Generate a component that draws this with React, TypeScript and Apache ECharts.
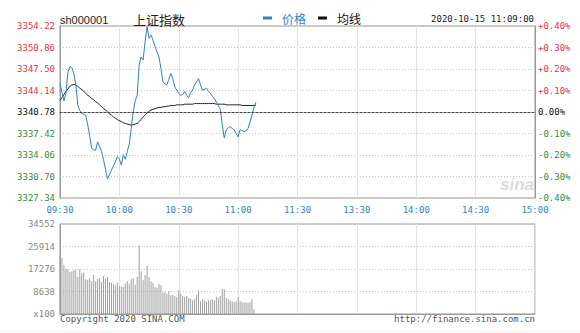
import React, { useEffect, useRef } from 'react';
import * as echarts from 'echarts';

const BASE = 3340.78;
const STEP = 3.36;

const price = [
  3345.3, 3343.8, 3342.5, 3343.7, 3347.0, 3347.9, 3347.7, 3346.8, 3345.0, 3341.9,
  3341.0, 3340.6, 3340.4, 3340.3, 3338.8, 3337.0, 3335.1, 3334.9, 3334.8, 3336.1,
  3335.4, 3334.6, 3333.3, 3331.8, 3330.3, 3331.0, 3331.7, 3332.4, 3333.0, 3333.8,
  3333.4, 3332.5, 3334.1, 3333.4, 3334.6, 3335.8, 3338.2, 3340.8, 3342.5, 3343.4,
  3348.1, 3349.4, 3348.9, 3351.8, 3354.1, 3352.3, 3352.8, 3352.0, 3351.0, 3350.2,
  3349.4, 3347.6, 3345.5, 3345.2, 3345.0, 3345.9, 3346.8, 3346.0, 3344.7, 3344.2,
  3343.7, 3343.4, 3343.5, 3344.0, 3343.4, 3343.0, 3343.8, 3344.2, 3345.0, 3345.5,
  3346.0, 3345.0, 3344.2, 3344.3, 3344.5, 3344.0, 3343.7, 3343.2, 3342.9, 3342.3,
  3341.8, 3341.2, 3338.8, 3336.7, 3338.0, 3338.3, 3338.5, 3338.2, 3338.0, 3337.4,
  3336.9, 3338.0, 3337.9, 3337.7, 3337.9, 3338.2, 3339.2, 3340.3, 3341.5, 3342.3,
];

const avgLine = [
  3342.6, 3343.0, 3343.5, 3344.0, 3344.4, 3344.8, 3345.0, 3345.1, 3345.0, 3344.8,
  3344.5, 3344.3, 3344.0, 3343.7, 3343.4, 3343.2, 3342.9, 3342.7, 3342.4, 3342.2,
  3341.9, 3341.6, 3341.3, 3341.1, 3340.8, 3340.5, 3340.3, 3340.0, 3339.8, 3339.6,
  3339.4, 3339.3, 3339.1, 3339.0, 3338.9, 3338.8, 3338.75, 3338.8, 3338.9, 3339.0,
  3339.3, 3339.6, 3340.0, 3340.3, 3340.6, 3340.9, 3341.1, 3341.2, 3341.3, 3341.4,
  3341.5, 3341.5, 3341.6, 3341.6, 3341.7, 3341.7, 3341.8, 3341.8, 3341.8, 3341.9,
  3341.9, 3341.9, 3341.9, 3342.0, 3342.0, 3342.0, 3342.0, 3342.0, 3342.1, 3342.1,
  3342.1, 3342.1, 3342.1, 3342.1, 3342.1, 3342.1, 3342.1, 3342.1, 3342.1, 3342.0,
  3342.0, 3342.0, 3342.0, 3342.0, 3341.9, 3341.9, 3341.9, 3341.9, 3341.9, 3341.9,
  3341.9, 3341.9, 3341.8, 3341.8, 3341.8, 3341.8, 3341.8, 3341.8, 3341.8, 3341.8,
];

const volume = [
  22500, 21500, 18940, 17150, 17150, 16130, 16380, 16770, 17150, 14210,
  17150, 15490, 15870, 13310, 12930, 13820, 12540, 15100, 12540, 13310,
  13820, 12290, 14590, 13570, 14210, 12290, 12030, 11520, 11010, 12030,
  10750, 10370, 10370, 11650, 12540, 11650, 13310, 13820, 11260, 14210,
  26110, 16380, 12930, 14850, 18690, 14210, 12540, 12030, 10370, 9980,
  11650, 11010, 8190, 8450, 7810, 8700, 7170, 7420, 6910, 6530,
  9090, 7810, 6910, 6530, 6910, 6140, 5890, 5250, 5630, 7420,
  9090, 4860, 5630, 5250, 4610, 5250, 5250, 5630, 5250, 6530,
  6140, 6910, 9730, 9470, 6140, 5630, 5250, 4860, 4610, 4860,
  6530, 4860, 4610, 4350, 4610, 4350, 4610, 5630, 1790,
];

const tickLabels = ['09:30', '10:00', '10:30', '11:00', '11:30', '13:30', '14:00', '14:30', '15:00'];
const volMax = 34552;
const volStep = 8638;

const pad = (n: number) => (n < 10 ? '0' + n : '' + n);
const minutes: string[] = [];
for (let i = 0; i <= 120; i++) {
  const t = 9 * 60 + 30 + i;
  minutes.push(pad(Math.floor(t / 60)) + ':' + pad(t % 60));
}
for (let i = 1; i <= 120; i++) {
  const t = 13 * 60 + i;
  minutes.push(pad(Math.floor(t / 60)) + ':' + pad(t % 60));
}

const toStep = (p: number) => +((p - BASE) / STEP).toFixed(4);
const MONO = '"DejaVu Sans Mono", monospace';
const RED = '#e8323c';
const GREEN = '#3a8a3a';
const BLUE = '#2e82c6';
const every30 = (i: number) => i % 30 === 0;

export default function App() {
  const ref = useRef<HTMLDivElement>(null);
  useEffect(() => {
    if (!ref.current) return;
    const chart = echarts.init(ref.current, undefined, { renderer: 'svg' });
    chart.setOption({
      animation: false,
      backgroundColor: '#fff',
      grid: [
        { left: 60, top: 26, width: 475, height: 172, show: true, borderColor: '#999', borderWidth: 1 },
        { left: 60, top: 224, width: 475, height: 90, show: true, borderColor: '#999', borderWidth: 1 },
      ],
      legend: {
        left: 263,
        top: 12,
        padding: 0,
        icon: 'rect',
        itemWidth: 9,
        itemHeight: 3,
        itemGap: 12,
        selectedMode: false,
        textStyle: { fontSize: 12, fontFamily: '"Noto Sans CJK SC"', padding: [0, 0, 0, 5] },
        data: [
          { name: '价格', textStyle: { color: BLUE } },
          { name: '均线', textStyle: { color: '#111' } },
        ],
      },
      xAxis: [
        {
          type: 'category',
          gridIndex: 0,
          data: minutes,
          boundaryGap: false,
          axisLine: { lineStyle: { color: '#999' } },
          axisTick: { show: false },
          axisLabel: {
            interval: every30,
            formatter: (_v: string, i: number) => tickLabels[i / 30] ?? '',
            color: BLUE,
            fontFamily: MONO,
            fontSize: 9,
            margin: 7,
            showMinLabel: true,
            showMaxLabel: true,
          },
          splitLine: { show: true, interval: every30, lineStyle: { color: '#e2e2e2', width: 1 } },
        },
        {
          type: 'category',
          gridIndex: 1,
          data: minutes,
          boundaryGap: false,
          axisLine: { lineStyle: { color: '#999' } },
          axisTick: { show: false },
          axisLabel: { show: false },
          splitLine: { show: true, interval: every30, lineStyle: { color: '#e2e2e2', width: 1 } },
        },
      ],
      yAxis: [
        {
          type: 'value',
          gridIndex: 0,
          min: -4,
          max: 4,
          interval: 1,
          position: 'left',
          axisLine: { show: true, lineStyle: { color: '#999' } },
          axisTick: { show: false },
          axisLabel: {
            formatter: (v: number) => (BASE + v * STEP).toFixed(2),
            color: (v: any) => (+v > 0 ? RED : +v < 0 ? GREEN : '#111'),
            fontFamily: MONO,
            fontSize: 9,
            margin: 5,
          },
          splitLine: { show: true, lineStyle: { color: '#c4c4c4', type: [1, 2] } },
        },
        {
          type: 'value',
          gridIndex: 0,
          min: -4,
          max: 4,
          interval: 1,
          position: 'right',
          axisLine: { show: true, lineStyle: { color: '#999' } },
          axisTick: { show: false },
          axisLabel: {
            formatter: (v: number) =>
              v === 0 ? '0.00%' : (v > 0 ? '+' : '-') + (Math.abs(v) / 10).toFixed(2) + '%',
            color: (v: any) => (+v > 0 ? RED : +v < 0 ? GREEN : '#111'),
            fontFamily: MONO,
            fontSize: 9,
            margin: 3,
          },
          splitLine: { show: false },
        },
        {
          type: 'value',
          gridIndex: 1,
          min: 0,
          max: volMax,
          interval: volStep,
          axisLine: { show: true, lineStyle: { color: '#999' } },
          axisTick: { show: false },
          axisLabel: {
            formatter: (v: number) => (v === 0 ? 'x100' : String(v)),
            color: '#888',
            fontFamily: MONO,
            fontSize: 9,
            margin: 5,
          },
          splitLine: { show: true, lineStyle: { color: '#c4c4c4', type: [1, 2] } },
        },
      ],
      series: [
        {
          name: '价格',
          type: 'line',
          xAxisIndex: 0,
          yAxisIndex: 0,
          data: price.map(toStep),
          symbol: 'none',
          itemStyle: { color: BLUE },
          lineStyle: { color: BLUE, width: 1 },
          markLine: {
            silent: true,
            symbol: 'none',
            label: { show: false },
            lineStyle: { color: '#444', type: [2, 2], width: 1 },
            data: [{ yAxis: 0 }],
          },
          z: 3,
        },
        {
          name: '均线',
          type: 'line',
          xAxisIndex: 0,
          yAxisIndex: 0,
          data: avgLine.map(toStep),
          symbol: 'none',
          itemStyle: { color: '#111' },
          lineStyle: { color: '#222', width: 1 },
          z: 2,
        },
        {
          name: '成交量',
          type: 'bar',
          xAxisIndex: 1,
          yAxisIndex: 2,
          data: volume,
          barWidth: 1,
          itemStyle: { color: '#a0a0a0' },
        },
      ],
      graphic: [
        {
          type: 'text',
          style: { text: 'sh000001', x: 60, y: 20, textVerticalAlign: 'middle', font: '11px "Liberation Sans", sans-serif', fill: '#222' },
        },
        {
          type: 'text',
          style: { text: '上证指数', x: 133, y: 19, textVerticalAlign: 'middle', font: '13px "Noto Sans CJK SC"', fill: '#222' },
        },
        {
          type: 'text',
          style: { text: '2020-10-15 11:09:00', x: 534, y: 19, textAlign: 'right', textVerticalAlign: 'middle', font: '9px ' + MONO, fill: '#222' },
        },
        {
          type: 'text',
          style: { text: 'sina', x: 500, y: 184, textVerticalAlign: 'middle', font: 'italic bold 17px "Liberation Sans", sans-serif', fill: '#dcdcdc' },
        },
        {
          type: 'text',
          style: { text: 'Copyright 2020 SINA.COM', x: 60, y: 319, textVerticalAlign: 'middle', font: '9px ' + MONO, fill: '#555' },
        },
        {
          type: 'text',
          style: { text: 'http://finance.sina.com.cn', x: 535, y: 319, textAlign: 'right', textVerticalAlign: 'middle', font: '9px ' + MONO, fill: '#555' },
        },
        {
          type: 'line',
          shape: { x1: 0, y1: 331.5, x2: 580, y2: 331.5 },
          style: { stroke: '#eeeeee', lineWidth: 1 },
        },
      ],
    });
    return () => chart.dispose();
  }, []);
  return <div ref={ref} style={{ position: 'fixed', left: 0, top: 0, width: 580, height: 333 }} />;
}
